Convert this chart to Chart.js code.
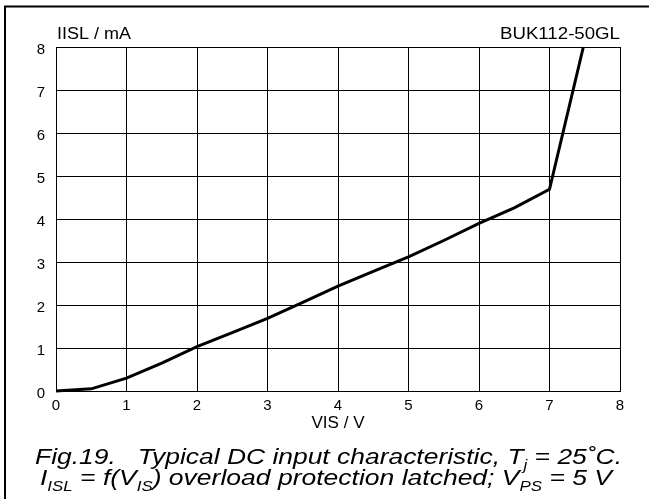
<!DOCTYPE html>
<html>
<head>
<meta charset="utf-8">
<script src="https://cdn.jsdelivr.net/npm/chart.js@4/dist/chart.umd.min.js"></script>
<style>
html,body{margin:0;padding:0;background:#fff;}
#wrap{width:649px;height:499px;position:relative;}
</style>
</head>
<body>
<div id="wrap"><canvas id="c" width="649" height="499"></canvas></div>
<script>
// Data
const visValues = [0, 0.5, 1, 1.5, 2, 2.5, 3, 3.5, 4, 4.5, 5, 5.5, 6, 6.5, 7, 7.48];
const islValues = [0, 0.05, 0.3, 0.65, 1.03, 1.36, 1.69, 2.06, 2.44, 2.78, 3.12, 3.5, 3.9, 4.26, 4.69, 8];
const xTicks = [0, 1, 2, 3, 4, 5, 6, 7, 8];
const yTicks = [0, 1, 2, 3, 4, 5, 6, 7, 8];
const yAxisLabel = 'IISL / mA';
const xAxisLabel = 'VIS / V';
const deviceLabel = 'BUK112-50GL';
const caption1 = [['Fig.19.   Typical DC input characteristic, T', false], ['j', true], [' = 25˚C.', false]];
const caption2 = [['I', false], ['ISL', true], [' = f(V', false], ['IS', true], [') overload protection latched; V', false], ['PS', true], [' = 5 V', false]];

const FONT = '"Liberation Sans", Arial, sans-serif';

function drawSegs(ctx, segs, x, y, size, subSize, targetW, italic) {
  const st = italic ? 'italic ' : '';
  let total = 0;
  segs.forEach(([t, sub]) => {
    ctx.font = st + (sub ? subSize : size) + 'px ' + FONT;
    total += ctx.measureText(t).width;
  });
  const sx = targetW ? targetW / total : 1;
  ctx.save();
  ctx.translate(x, y);
  ctx.scale(sx, 1);
  let cx = 0;
  segs.forEach(([t, sub]) => {
    ctx.font = st + (sub ? subSize : size) + 'px ' + FONT;
    ctx.fillText(t, cx, sub ? size * 0.28 : 0);
    cx += ctx.measureText(t).width;
  });
  ctx.restore();
}

const textPlugin = {
  id: 'texts',
  afterDraw(chart) {
    const ctx = chart.ctx;
    const a = chart.chartArea;
    ctx.save();
    ctx.fillStyle = '#000';
    ctx.textBaseline = 'alphabetic';
    ctx.textAlign = 'left';
    // frame
    ctx.strokeStyle = '#000';
    ctx.lineWidth = 2;
    ctx.beginPath();
    ctx.moveTo(5, 499);
    ctx.lineTo(5, 6.5);
    ctx.lineTo(649, 6.5);
    ctx.stroke();
    // header labels
    drawSegs(ctx, [[yAxisLabel, false]], a.left + 1, a.top - 8, 16, 16, 74, false);
    drawSegs(ctx, [[deviceLabel, false]], a.right - 120, a.top - 8, 16, 16, 120, false);
    drawSegs(ctx, [[xAxisLabel, false]], (a.left + a.right) / 2 - 26.5, a.bottom + 37, 16, 16, 53, false);
    // caption
    drawSegs(ctx, caption1, 35, 464, 22, 14, 587, true);
    drawSegs(ctx, caption2, 40, 485, 22, 14, 572, true);
    ctx.restore();
  }
};

new Chart(document.getElementById('c'), {
  type: 'line',
  data: {
    datasets: [{
      data: visValues.map((v, i) => ({x: v, y: islValues[i]})),
      borderColor: '#000',
      borderWidth: 3,
      pointRadius: 0,
      tension: 0,
      fill: false,
      clip: false
    }]
  },
  options: {
    responsive: false,
    animation: false,
    devicePixelRatio: 1,
    layout: {padding: {left: 0, right: 29, top: 47, bottom: 78}},
    plugins: {legend: {display: false}, tooltip: {enabled: false}},
    scales: {
      x: {
        type: 'linear', min: 0, max: 8,
        afterFit: s => { s.height = 30; },
        afterBuildTicks: s => { s.ticks = xTicks.map(v => ({value: v})); },
        ticks: {color: '#000', font: {family: FONT, size: 15}, padding: 6, maxRotation: 0},
        grid: {color: '#000', lineWidth: 1, drawTicks: false},
        border: {color: '#000', width: 1}
      },
      y: {
        type: 'linear', min: 0, max: 8,
        afterFit: s => { s.width = 56; },
        afterBuildTicks: s => { s.ticks = yTicks.map(v => ({value: v})); },
        ticks: {color: '#000', font: {family: FONT, size: 15}, padding: 11, labelOffset: 3},
        grid: {color: '#000', lineWidth: 1, drawTicks: false},
        border: {color: '#000', width: 1}
      }
    }
  },
  plugins: [textPlugin]
});
</script>
</body>
</html>
